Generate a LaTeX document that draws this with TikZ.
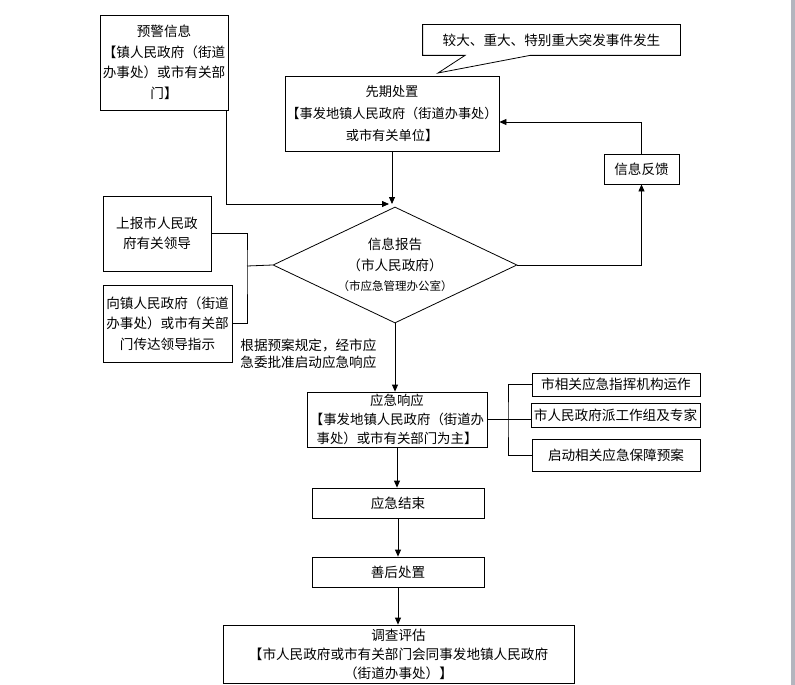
\documentclass[tikz,border=0pt]{standalone}
\usepackage{fontspec}
\setmainfont{Noto Sans CJK SC}
\usetikzlibrary{shapes.geometric,arrows.meta}
\definecolor{barcol}{RGB}{180,181,190}

\begin{document}
\begin{tikzpicture}[x=1pt,y=-1pt,line width=0.8pt,
    font=\fontsize{13.6pt}{20.5pt}\selectfont,
    box/.style={draw,rectangle,align=center,inner sep=1pt},
    rhomb/.style={draw,diamond,aspect=2.1,minimum width=244pt,minimum height=116pt,inner sep=0pt,align=center},
    arr/.style={-{Triangle[length=7pt,width=6pt]}}]
  \useasboundingbox (0,0) rectangle (795,685);
  \fill[barcol] (791,0) rectangle (795,685);

  \node[box,minimum width=128pt,minimum height=95pt] (warn) at (164,62.5) {预警信息\\【镇人民政府（街道\\办事处）或市有关部\\门】};
  \node[box,minimum width=214pt,minimum height=75pt,font=\fontsize{13.2pt}{22pt}\selectfont] (first) at (392,113.5) {先期处置\\【事发地镇人民政府（街道办事处）\\或市有关单位】};
  \node[minimum width=257pt,minimum height=30pt,inner sep=0pt] (event) at (551.5,40) {较大、重大、特别重大突发事件发生};
  \coordinate (tip) at (438,73);
  \draw (event.south west) -- (event.north west) -- (event.north east) -- (event.south east)
    -- ([xshift=-21.5pt]event.south) -- (tip) -- ([xshift=-86.5pt]event.south) -- cycle;
  \node[box,minimum width=75pt,minimum height=30pt] (feedback) at (641.5,169) {信息反馈};
  \node[rhomb] (report) at (395,265) {信息报告\\（市人民政府）\\{\fontsize{11.5pt}{17pt}\selectfont（市应急管理办公室）}};
  \node[box,minimum width=108pt,minimum height=75pt] (leaders) at (157,233.5) {上报市人民政\\府有关领导};
  \node[box,minimum width=129pt,minimum height=77pt] (relay) at (167.5,323.5) {向镇人民政府（街道\\办事处）或市有关部\\门传达领导指示};
  \node[align=left,anchor=west,inner sep=0pt,font=\fontsize{13.6pt}{17pt}\selectfont] (approve) at (240,353.5) {根据预案规定，经市应\\急委批准启动应急响应};
  \node[box,minimum width=180pt,minimum height=55pt,font=\fontsize{13.4pt}{19pt}\selectfont] (response) at (397,419.5) {应急响应\\【事发地镇人民政府（街道办\\事处）或市有关部门为主】};
  \node[box,minimum width=168pt,minimum height=23pt] (ops1) at (616,384.5) {市相关应急指挥机构运作};
  \node[box,minimum width=169pt,minimum height=24pt] (ops2) at (615.5,415) {市人民政府派工作组及专家};
  \node[box,minimum width=168pt,minimum height=32pt] (ops3) at (616,455) {启动相关应急保障预案};
  \node[box,minimum width=172pt,minimum height=30pt] (finish) at (398,503) {应急结束};
  \node[box,minimum width=172pt,minimum height=30pt] (after) at (398,572) {善后处置};
  \node[box,minimum width=351pt,minimum height=58pt,font=\fontsize{13.6pt}{19pt}\selectfont] (assess) at (398.5,654) {调查评估\\【市人民政府或市有关部门会同事发地镇人民政府\\（街道办事处）】};

  \coordinate (merge) at (393,204);
  \coordinate (lbr) at (247,266);
  \coordinate (rbr) at (508,419.5);
  \draw[arr] (first.south) -- (first.south |- merge);
  \draw[arr,shorten >=4pt] ([xshift=-2pt]warn.south east) |- (merge);
  \draw (leaders.east) -| (lbr) |- (relay.east);
  \draw (lbr) -- (report.west);
  \draw[arr] (report.east) -| (feedback.south);
  \draw[arr] (feedback.north) |- ([yshift=-8.5pt]first.east);
  \draw[arr] (report.south) -- (report.south |- response.north);
  \draw (response.east) -- (response.east -| ops2.west);
  \draw (ops1.west) -| (rbr) |- (ops3.west);
  \draw[arr] (response.south) -- (response.south |- finish.north);
  \draw[arr] (finish) -- (after);
  \draw[arr] (after.south) -- (after.south |- assess.north);
\end{tikzpicture}
\end{document}
